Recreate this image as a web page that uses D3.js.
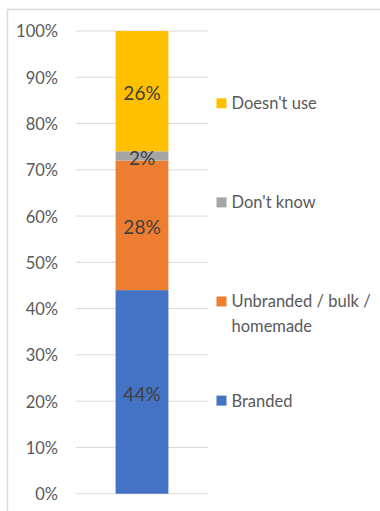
<!DOCTYPE html>
<html>
<head>
<meta charset="utf-8">
<script src="https://cdn.jsdelivr.net/npm/d3@7"></script>
<style>
  html, body { margin: 0; padding: 0; background: #fff; }
  svg { display: block; font-family: Lato, "Liberation Sans", Arial, sans-serif; }
</style>
</head>
<body>
<svg id="chart" width="380" height="511"></svg>
<script>
// Share of respondents by product type (single stacked column)
const categories = ["Branded", "Unbranded / bulk / homemade", "Don't know", "Doesn't use"];
const values = [44, 28, 2, 26];
const colors = ["#4472C4", "#ED7D31", "#A5A5A5", "#FFC000"];
const tickValues = [0, 10, 20, 30, 40, 50, 60, 70, 80, 90, 100];
// Legend entries, top to bottom, with wrapped lines
const legendLines = [
  ["Doesn't use"],
  ["Don't know"],
  ["Unbranded / bulk /", "homemade"],
  ["Branded"]
];
const legendColors = ["#FFC000", "#A5A5A5", "#ED7D31", "#4472C4"];

const svg = d3.select("#chart");

// Chart frame
svg.append("path")
  .attr("d", "M7.5,511 V9.5 H380")
  .attr("fill", "none")
  .attr("stroke", "#D9D9D9")
  .attr("stroke-width", 1.5);

const y = d3.scaleLinear().domain([0, 100]).range([493.7, 31]);
const x = d3.scaleBand().domain(["all"]).range([76, 208]).paddingInner(0).paddingOuter(0.75);

// Gridlines
svg.append("g")
  .selectAll("line")
  .data(tickValues)
  .join("line")
  .attr("x1", 76).attr("x2", 208)
  .attr("y1", d => y(d)).attr("y2", d => y(d))
  .attr("stroke", "#D9D9D9")
  .attr("stroke-width", 1);

// Y axis labels
const yAxis = d3.axisLeft(y).tickValues(tickValues).tickFormat(d => d + "%").tickSize(0).tickPadding(0);
const gAxis = svg.append("g").attr("transform", "translate(58,0)").call(yAxis);
gAxis.select(".domain").remove();
gAxis.selectAll("text")
  .attr("fill", "#595959")
  .style("font-size", "16.5px")
  .style("font-family", "Lato, 'Liberation Sans', Arial, sans-serif")
  .attr("dy", "0.36em");

// Stack the segments
let acc = 0;
const segs = values.map((v, i) => {
  const s = { key: categories[i], y0: acc, y1: acc + v, v, color: colors[i] };
  acc += v;
  return s;
});

const barX = x("all");
const barW = x.bandwidth();

svg.append("g")
  .selectAll("rect")
  .data(segs)
  .join("rect")
  .attr("x", barX)
  .attr("width", barW)
  .attr("y", d => y(d.y1))
  .attr("height", d => y(d.y0) - y(d.y1))
  .attr("fill", d => d.color);

// Value labels
svg.append("g")
  .selectAll("text")
  .data(segs)
  .join("text")
  .attr("x", barX + barW / 2)
  .attr("y", d => y((d.y0 + d.y1) / 2) + 1.5)
  .attr("text-anchor", "middle")
  .attr("dominant-baseline", "central")
  .attr("fill", "#404040")
  .style("font-size", "19px")
  .text(d => d.v + "%");

// Legend
const legendTop = 103.3;
const legendStep = 99.1;
const lineH = 24.3;
const leg = svg.append("g")
  .selectAll("g")
  .data(legendLines)
  .join("g")
  .attr("transform", (d, i) => `translate(216.5,${legendTop + i * legendStep})`);

leg.append("rect")
  .attr("x", 0).attr("y", -5)
  .attr("width", 10).attr("height", 10)
  .attr("fill", (d, i) => legendColors[i]);

leg.each(function (lines) {
  const t = d3.select(this).append("text")
    .attr("x", 15)
    .attr("fill", "#595959")
    .style("font-size", "16.5px");
  lines.forEach((ln, j) => {
    t.append("tspan")
      .attr("x", 15)
      .attr("y", j * lineH)
      .attr("dy", "0.36em")
      .text(ln);
  });
});
</script>
</body>
</html>
